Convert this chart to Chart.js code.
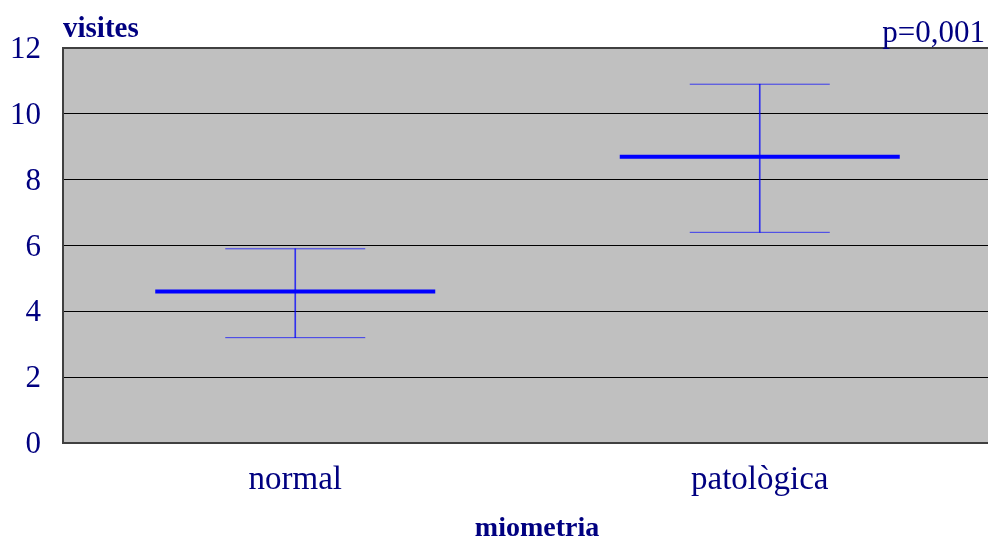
<!DOCTYPE html>
<html>
<head>
<meta charset="utf-8">
<script src="https://cdn.jsdelivr.net/npm/chart.js@4"></script>
<style>
html,body{margin:0;padding:0;background:#fff;overflow:hidden;width:988px;height:540px;}
canvas{display:block;}
</style>
</head>
<body>
<canvas id="c" width="992" height="540"></canvas>
<script>
const categories = ['normal', 'patològica'];
const means = [4.6, 8.7];
const lows = [3.2, 6.4];
const highs = [5.9, 10.9];
const yTicks = [0, 2, 4, 6, 8, 10, 12];
const yTitle = 'visites';
const xTitle = 'miometria';
const pLabel = 'p=0,001';

const NAVY = '#000080';
const SERIF = "'Liberation Serif', 'DejaVu Serif', serif";

const bgPlugin = {
  id: 'bg',
  beforeDraw(chart) {
    const a = chart.chartArea, ctx = chart.ctx;
    ctx.save();
    ctx.fillStyle = '#C0C0C0';
    ctx.fillRect(a.left, a.top, a.right - a.left, a.bottom - a.top);
    ctx.restore();
  },
  afterDraw(chart) {
    const a = chart.chartArea, ctx = chart.ctx;
    ctx.save();
    ctx.fillStyle = NAVY;
    ctx.textBaseline = 'alphabetic';
    ctx.font = "bold 29px " + SERIF;
    ctx.textAlign = 'left';
    ctx.fillText(yTitle, a.left, 37);
    ctx.font = "31px " + SERIF;
    ctx.textAlign = 'right';
    ctx.fillText(pLabel, 985, 42);
    ctx.font = "bold 28px " + SERIF;
    ctx.textAlign = 'center';
    ctx.fillText(xTitle, 537, 536);
    ctx.restore();
  }
};

new Chart(document.getElementById('c'), {
  type: 'bar',
  data: {
    labels: categories,
    datasets: [
      {
        type: 'bar',
        data: lows.map((l, i) => [l, highs[i]]),
        backgroundColor: 'rgba(0,0,255,0.75)',
        borderWidth: 0,
        barThickness: 1,
        grouped: false,
        order: 3
      },
      {
        type: 'line',
        data: highs,
        showLine: false,
        pointStyle: 'line',
        pointRadius: 70,
        pointBorderWidth: 1,
        pointBorderColor: 'rgba(0,0,255,0.7)',
        order: 2
      },
      {
        type: 'line',
        data: lows,
        showLine: false,
        pointStyle: 'line',
        pointRadius: 70,
        pointBorderWidth: 1,
        pointBorderColor: 'rgba(0,0,255,0.7)',
        order: 2
      },
      {
        type: 'line',
        data: means,
        showLine: false,
        pointStyle: 'line',
        pointRadius: 140,
        pointBorderWidth: 4,
        pointBorderColor: '#0000FF',
        order: 1
      }
    ]
  },
  options: {
    responsive: false,
    animation: false,
    events: [],
    layout: { autoPadding: false, padding: { top: 48, left: 0, right: 0, bottom: 0 } },
    plugins: { legend: { display: false }, tooltip: { enabled: false } },
    scales: {
      x: {
        offset: true,
        grid: { display: false, drawTicks: false },
        border: { display: true, color: '#404040', width: 2 },
        ticks: { color: NAVY, font: { family: SERIF, size: 33 }, padding: 18 },
        afterFit(s) { s.height = 97; }
      },
      y: {
        min: 0, max: 12,
        afterBuildTicks(s) { s.ticks = yTicks.map(v => ({ value: v })); },
        grid: {
          drawTicks: false,
          color: ctx => (ctx.tick && (ctx.tick.value === 12 || ctx.tick.value === 0)) ? '#404040' : '#000000',
          lineWidth: ctx => (ctx.tick && (ctx.tick.value === 12 || ctx.tick.value === 0)) ? 2 : 1
        },
        border: { display: true, color: '#404040', width: 2 },
        ticks: { color: NAVY, font: { family: SERIF, size: 31 }, padding: 22, labelOffset: 2 },
        afterFit(s) { s.width = 63; }
      }
    }
  },
  plugins: [bgPlugin]
});
</script>
</body>
</html>
